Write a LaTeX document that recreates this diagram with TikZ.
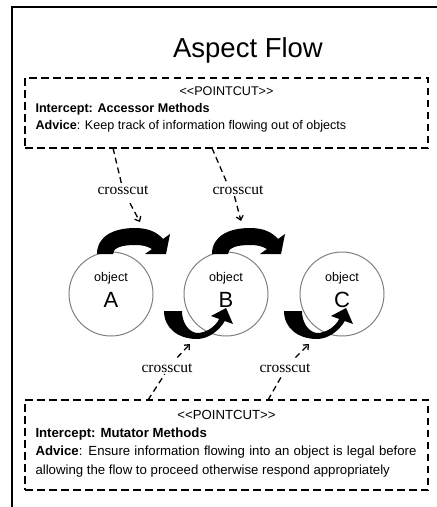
\documentclass[tikz,border=0pt]{standalone}
\usepackage{fontspec}
\setmainfont{Liberation Sans}
\newfontfamily\cutfont{Liberation Serif}
\usepackage{tikz}
\usetikzlibrary{positioning}
\usetikzlibrary{arrows.meta}
\definecolor{objline}{HTML}{808080}

\begin{document}
\begin{tikzpicture}[x=1pt, y=-1pt,
    frame/.style = {line width=1.8pt},
    pbox/.style = {draw, dash pattern=on 7.5pt off 4.5pt, line width=1.4pt, minimum width=403pt, inner sep=0pt},
    boxline/.style = {inner sep=0pt, text height=9pt, text depth=2.5pt, font=\fontsize{12.6}{15}\selectfont},
    boxlineb/.style = {inner sep=0pt, text height=9.5pt, text depth=2.7pt, font=\fontsize{13.2}{16}\selectfont},
    obj/.style = {draw=objline, line width=1pt, circle, minimum size=84pt, inner sep=0pt},
    objname/.style = {inner sep=0pt, font=\fontsize{12.6}{15}\selectfont},
    objletter/.style = {inner sep=0pt, font=\fontsize{22}{26}\selectfont},
    cutlabel/.style = {inner sep=1.5pt, font=\cutfont\fontsize{15.5}{18}\selectfont},
    cutline/.style = {dash pattern=on 6pt off 4pt, line width=1.3pt},
    bendarrow/.style = {fill=black},
    >={Straight Barb[length=4pt,width=7pt]}]

\useasboundingbox (0,0) rectangle (437,507);
\draw[frame] (12,507) -- (12,7) -- (437,7);

\node[font=\fontsize{27.5}{33}\selectfont] (title) at (248,50) {Aspect Flow};

\node[pbox, minimum height=70pt] (topbox) at (226.5,113) {};
\node[boxline, below=8.5pt of topbox.north] (pc1) {<\kern0pt<POINTCUT>\kern0pt>};
\node[boxline, anchor=north west] (int1) at ([xshift=11pt, yshift=-25.5pt]topbox.north west) {\textbf{Intercept: Accessor Methods}};
\node[boxline, below=6pt of int1.south west, anchor=north west] (adv1) {\textbf{Advice}: Keep track of information flowing out of objects};

\node[pbox, minimum height=90pt] (botbox) at (226.5,445) {};
\node[boxlineb, below=10.2pt of botbox.north] (pc2) {<\kern0pt<POINTCUT>\kern0pt>};
\node[boxlineb, anchor=north west] (int2) at ([xshift=11pt, yshift=-28.2pt]botbox.north west) {\textbf{Intercept: Mutator Methods}};
\node[boxlineb, below=5.8pt of int2.south west, anchor=north west] (adv2) {\makebox[381pt][s]{\textbf{Advice}: Ensure information flowing into an object is legal before}};
\node[boxlineb, below=5.8pt of adv2.south west, anchor=north west] (all2) {allowing the flow to proceed otherwise respond appropriately};

\node[obj] (objA) at (111,294) {};
\node[obj, right=30pt of objA] (objB) {};
\node[obj, right=31pt of objB] (objC) {};

\node[objname] (onA) at ([yshift=16pt]objA.center) {object};
\node[objletter] (lA) at ([yshift=-6pt]objA.center) {A};
\node[objname] (onB) at ([yshift=16pt]objB.center) {object};
\node[objletter] (lB) at ([yshift=-6pt]objB.center) {B};
\node[objname] (onC) at ([yshift=16pt]objC.center) {object};
\node[objletter] (lC) at ([yshift=-6pt]objC.center) {C};

\fill[bendarrow] (97,254) .. controls (97,236) and (114,228) .. (135,228)
    .. controls (148,228) and (157,232) .. (163,239)
    -- (170,234) -- (166,254) -- (145,254) -- (152,249)
    .. controls (147,246) and (142,245) .. (135,245)
    .. controls (121,245) and (113,248) .. (113,254) -- cycle;
\fill[bendarrow, shift={(115,0)}] (97,254) .. controls (97,236) and (114,228) .. (135,228)
    .. controls (148,228) and (157,232) .. (163,239)
    -- (170,234) -- (166,254) -- (145,254) -- (152,249)
    .. controls (147,246) and (142,245) .. (135,245)
    .. controls (121,245) and (113,248) .. (113,254) -- cycle;

\fill[bendarrow] (164,311) .. controls (164,328) and (178,339) .. (197,339)
    .. controls (208,339) and (219,331) .. (224.8,321)
    -- (233,324) -- (226.1,308) -- (211,316) -- (219.2,319)
    .. controls (215,327) and (206,333) .. (197,333)
    .. controls (188,332) and (182,322) .. (182,311) -- cycle;
\fill[bendarrow, shift={(120,0)}] (164,311) .. controls (164,328) and (178,339) .. (197,339)
    .. controls (208,339) and (219,331) .. (224.8,321)
    -- (233,324) -- (226.1,308) -- (211,316) -- (219.2,319)
    .. controls (215,327) and (206,333) .. (197,333)
    .. controls (188,332) and (182,322) .. (182,311) -- cycle;

\coordinate (tc1) at (113,148);
\coordinate (tc2) at (212,148);
\coordinate (hit1) at (140,222);
\coordinate (hit2) at (241,221);
\node[cutlabel] (cut1) at (123,190) {crosscut};
\node[cutlabel] (cut2) at (238,190) {crosscut};
\draw[cutline] (tc1) -- (cut1);
\draw[cutline, ->, shorten <=8pt] (cut1) -- (hit1);
\draw[cutline] (tc2) -- (cut2.150);
\draw[cutline, ->] (cut2.240) -- (hit2);

\coordinate (bc3) at (148,400);
\coordinate (bc4) at (268,400);
\coordinate (hit3) at (190,344);
\coordinate (hit4) at (309,344);
\node[cutlabel] (cut3) at (167,368) {crosscut};
\node[cutlabel] (cut4) at (285,368) {crosscut};
\draw[cutline] (bc3) -- (cut3.250);
\draw[cutline, ->, shorten <=6pt] (cut3.45) -- (hit3);
\draw[cutline] (bc4) -- (cut4.250);
\draw[cutline, ->, shorten <=6pt] (cut4.45) -- (hit4);

\end{tikzpicture}
\end{document}
